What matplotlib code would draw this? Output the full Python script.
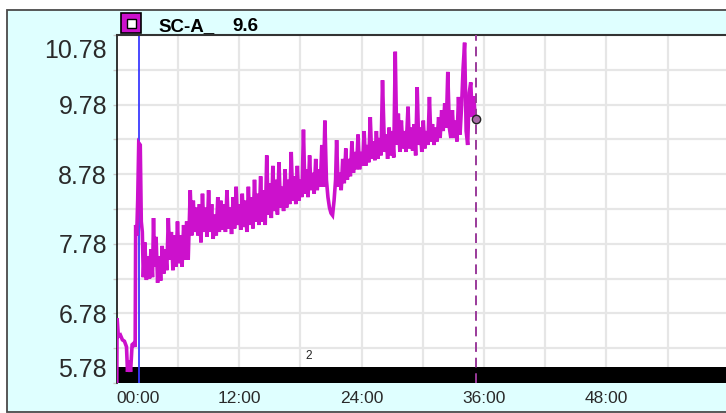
import matplotlib
matplotlib.use("Agg")
import matplotlib.pyplot as plt
import matplotlib.transforms as mtransforms
from matplotlib.patches import Rectangle

# ---------------- data ----------------
series_name = "SC-A_"
current_value = "9.6"
hours = [0.00, 0.03, 0.15, 0.35, 0.55, 0.75, 0.95, 1.05, 1.20, 1.35, 1.50, 1.65, 1.80,
         1.85, 1.95, 2.05, 2.15, 2.30, 2.40, 2.50, 2.60, 2.75, 2.90, 3.05, 3.20, 3.35,
         3.50, 3.60, 3.70, 3.85, 4.00, 4.15, 4.30, 4.45, 4.60, 4.75, 4.90, 5.05, 5.20,
         5.35, 5.50, 5.65, 5.80, 5.95, 6.10, 6.25, 6.40, 6.55, 6.70, 6.85, 7.00, 7.20,
         7.35, 7.50, 7.65, 7.80, 7.95, 8.10, 8.25, 8.40, 8.55, 8.70, 8.85, 9.00, 9.15,
         9.30, 9.45, 9.60, 9.75, 9.90, 10.05, 10.20, 10.35, 10.50, 10.65, 10.80, 10.95,
         11.10, 11.25, 11.40, 11.55, 11.70, 11.85, 12.00, 12.15, 12.30, 12.45, 12.60,
         12.75, 12.90, 13.05, 13.20, 13.35, 13.50, 13.65, 13.80, 13.95, 14.10, 14.25,
         14.40, 14.55, 14.70, 14.85, 15.00, 15.15, 15.30, 15.45, 15.60, 15.75, 15.90,
         16.05, 16.20, 16.35, 16.50, 16.65, 16.80, 16.95, 17.10, 17.25, 17.40, 17.55,
         17.70, 17.85, 18.00, 18.15, 18.30, 18.45, 18.60, 18.75, 18.90, 19.05, 19.20,
         19.35, 19.50, 19.65, 19.80, 19.95, 20.10, 20.25, 20.40, 20.55, 20.70, 20.85,
         21.00, 21.15, 21.30, 21.45, 21.55, 21.70, 21.85, 22.00, 22.15, 22.30, 22.45,
         22.60, 22.75, 22.90, 23.05, 23.20, 23.35, 23.50, 23.65, 23.80, 23.95, 24.10,
         24.25, 24.40, 24.55, 24.70, 24.85, 25.00, 25.15, 25.30, 25.45, 25.60, 25.75,
         25.90, 26.05, 26.25, 26.40, 26.55, 26.70, 26.85, 27.00, 27.15, 27.30, 27.45,
         27.60, 27.75, 27.90, 28.05, 28.20, 28.35, 28.55, 28.70, 28.85, 29.00, 29.15,
         29.30, 29.45, 29.60, 29.75, 29.90, 30.05, 30.20, 30.35, 30.50, 30.65, 30.80,
         30.95, 31.10, 31.25, 31.40, 31.55, 31.70, 31.85, 32.00, 32.15, 32.30, 32.45,
         32.60, 32.75, 32.90, 33.05, 33.20, 33.35, 33.50, 33.65, 33.80, 33.95, 34.10,
         34.25, 34.40, 34.55, 34.70, 34.85, 35.00, 35.15]
values = [5.78, 6.71, 6.45, 6.47, 6.40, 6.38, 6.30, 5.94, 6.10, 5.94, 6.33, 6.35, 6.30,
          8.05, 7.90, 8.41, 9.23, 9.20, 8.10, 7.95, 7.30, 7.80, 7.26, 7.60, 7.28, 7.70,
          7.30, 8.15, 7.45, 7.88, 7.22, 7.60, 7.25, 7.75, 7.35, 7.70, 7.40, 8.15, 7.55,
          7.95, 7.40, 7.90, 7.45, 8.10, 7.50, 7.90, 7.45, 8.05, 7.55, 8.10, 7.55, 8.55,
          7.90, 8.40, 7.95, 8.30, 7.90, 8.35, 7.80, 8.50, 7.95, 8.30, 7.88, 8.55, 7.95,
          8.35, 7.85, 8.20, 7.90, 8.45, 7.95, 8.40, 7.98, 8.35, 7.95, 8.55, 8.00,
          8.30, 7.92, 8.45, 8.00, 8.60, 8.05, 8.35, 7.98, 8.50, 8.02, 8.40,
          7.95, 8.60, 8.05, 8.45, 8.00, 8.70, 8.10, 8.50, 8.05, 8.75, 8.10,
          8.55, 8.05, 9.05, 8.20, 8.65, 8.15, 8.90, 8.25, 8.70, 8.20, 8.95,
          8.30, 8.60, 8.25, 8.85, 8.30, 8.70, 8.35, 9.10, 8.40, 8.75, 8.35,
          8.90, 8.40, 8.70, 8.45, 9.42, 8.50, 8.85, 8.45, 9.05, 8.55, 8.80,
          8.50, 9.00, 8.55, 8.85, 8.60, 9.20, 8.60, 9.55, 8.70, 8.45, 8.30,
          8.22, 8.19, 8.40, 8.70, 9.27, 8.60, 8.80, 8.55, 9.00, 8.65, 9.15,
          8.70, 9.00, 8.75, 9.25, 8.80, 9.10, 8.85, 9.35, 8.85, 9.10, 8.90,
          9.40, 8.90, 9.20, 8.95, 9.60, 9.00, 9.25, 8.98, 9.40, 9.00, 9.30,
          9.05, 10.13, 9.10, 9.35, 9.00, 9.45, 9.05, 9.40, 9.02, 10.54, 9.20,
          9.65, 9.10, 9.55, 9.15, 9.40, 9.10, 9.75, 9.15, 9.45, 9.12, 9.50,
          9.05, 10.03, 9.20, 9.45, 9.10, 9.55, 9.15, 9.40, 9.20, 9.89, 9.25,
          9.50, 9.20, 9.45, 9.25, 9.60, 9.30, 9.70, 9.40, 9.80, 9.45, 10.25,
          9.45, 9.30, 9.70, 9.30, 9.55, 9.25, 9.89, 9.35, 9.75, 10.30, 10.67,
          9.40, 9.20, 9.95, 10.10, 9.60, 9.90, 9.57]
start_marker_h = 2.18
cursor_h = 35.2
cursor_value = 9.57
event_label = "2"
event_h = 18.5
x_ticks = [0, 12, 24, 36, 48]
x_labels = ["00:00", "12:00", "24:00", "36:00", "48:00"]
y_labels = ["5.78", "6.78", "7.78", "8.78", "9.78", "10.78"]

# ---------------- figure ----------------
W, H = 726, 413
fig = plt.figure(figsize=(W / 100, H / 100), dpi=100)
fig.patch.set_facecolor("white")


def fx(px):
    return px / W


def fy(py):
    return 1 - py / H


# outer frame (light cyan)
fig.add_artist(Rectangle((fx(7), fy(412)), fx(760 - 7), (412 - 10) / H,
                         transform=fig.transFigure, facecolor="#dfffff",
                         edgecolor="#4a4a4a", lw=1.3, zorder=0))

ax = fig.add_axes([fx(116.8), fy(383), 612 / W, 348 / H])
ax.set_facecolor("white")
ax.set_xlim(0, 60)
ax.set_ylim(5.78, 10.78)

for s in ["right", "bottom"]:
    ax.spines[s].set_visible(False)
ax.spines["left"].set_color("#111111")
ax.spines["left"].set_linewidth(1.2)
ax.spines["top"].set_color("#333333")
ax.spines["top"].set_linewidth(1.5)

# grid / ticks
yt = [5.78 + 0.5 * i for i in range(11)]
ax.set_yticks(yt)
lab = []
for v in yt:
    s = "%.2f" % v
    lab.append(s if s in y_labels else "")
ax.set_yticklabels(lab, fontsize=18, family="Liberation Sans", color="#2a2a2a")
ax.tick_params(axis="y", length=3, color="#c8c8c8", width=1, pad=4)
for t in ax.get_yticklabels():
    if t.get_text() == "10.78":
        t.set_verticalalignment("top")
        t.set_transform(t.get_transform() + mtransforms.ScaledTranslation(0, -4 / 100, fig.dpi_scale_trans))
    if t.get_text() == "5.78":
        t.set_verticalalignment("bottom")
        t.set_transform(t.get_transform() + mtransforms.ScaledTranslation(0, 1 / 100, fig.dpi_scale_trans))

ax.set_xticks(x_ticks)
ax.set_xticklabels(x_labels, fontsize=12.5, family="Liberation Sans", color="#2a2a2a")
ax.tick_params(axis="x", length=0, pad=6)
ax.get_xticklabels()[0].set_horizontalalignment("left")

for g in range(6, 60, 6):
    ax.axvline(g, color="#e6e6e6", lw=1.6, zorder=1)
for v in yt[1:-1]:
    ax.axhline(v, color="#e6e6e6", lw=1.6, zorder=1)

# black event band
ax.add_patch(Rectangle((0, 0), 1, 16 / 348, transform=ax.transAxes,
                       facecolor="black", edgecolor="none", zorder=2))

ax.axvline(start_marker_h, color="#3a3aff", lw=1.3, zorder=2.5)
ax.plot(hours, values, color="#cc11cc", lw=2.6, zorder=3, solid_joinstyle="miter")
ax.axvline(cursor_h, color="#9a3a9a", lw=1.4, ls=(0, (5, 3)), zorder=4)
ax.plot([cursor_h], [cursor_value], "o", ms=6, mfc="#a86aa8", mec="#222222",
        mew=1.0, zorder=5)
ax.text(event_h, 6.17, event_label, fontsize=8.5, family="Liberation Sans",
        color="#222222", ha="left", va="center", zorder=5)

# legend header
fig.add_artist(Rectangle((fx(121), fy(33)), fx(20), 20 / H, transform=fig.transFigure,
                         facecolor="#cc11cc", edgecolor="black", lw=1.2, zorder=5))
fig.add_artist(Rectangle((fx(127), fy(28)), fx(8.5), 9 / H, transform=fig.transFigure,
                         facecolor="white", edgecolor="black", lw=1.0, zorder=6))
fig.text(fx(158), fy(31), series_name, fontsize=13.5, fontweight="bold",
         family="Liberation Sans", ha="left", va="baseline", color="black")
fig.text(fx(232), fy(31), current_value, fontsize=13.5, fontweight="bold",
         family="Liberation Sans", ha="left", va="baseline", color="black")

fig.savefig("out.png", dpi=100)
